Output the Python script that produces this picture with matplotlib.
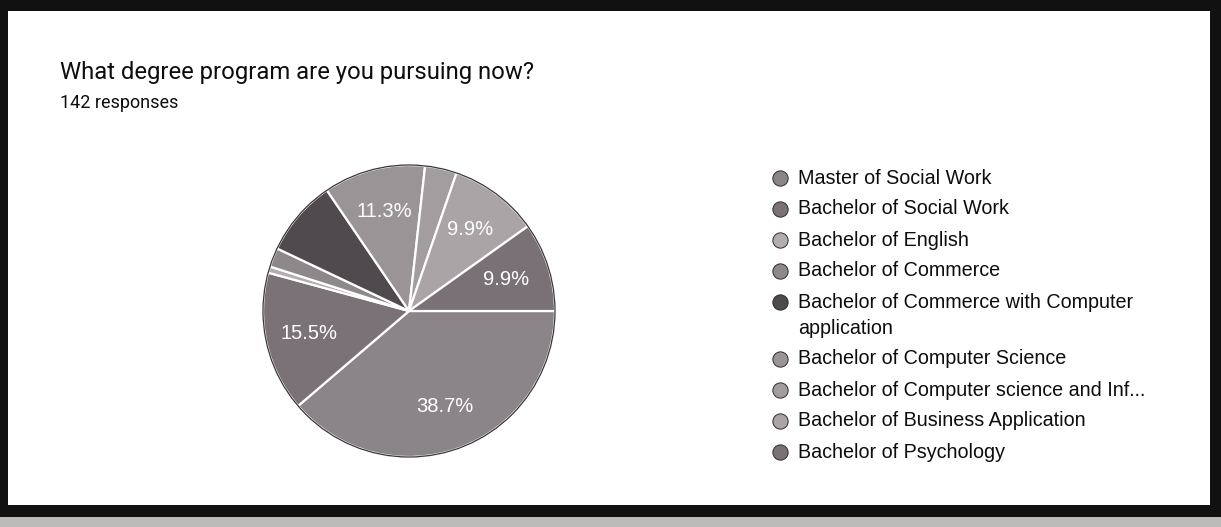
import matplotlib
matplotlib.use("Agg")
import matplotlib.pyplot as plt
from matplotlib.patches import Rectangle, Circle

# ---- data ----
title = "What degree program are you pursuing now?"
subtitle = "142 responses"
categories = [
    "Master of Social Work",
    "Bachelor of Social Work",
    "Bachelor of English",
    "Bachelor of Commerce",
    "Bachelor of Commerce with Computer\napplication",
    "Bachelor of Computer Science",
    "Bachelor of Computer science and Inf...",
    "Bachelor of Business Application",
    "Bachelor of Psychology",
]
counts = [55, 22, 1, 3, 12, 16, 5, 14, 14]
colors = ["#8b8488", "#7a7276", "#b3adaf", "#8e888a", "#4f4a4e",
          "#9a9496", "#a39d9f", "#aaa4a6", "#797175"]

W, H = 1221, 527
fig = plt.figure(figsize=(W / 100, H / 100), dpi=100)
fig.patch.set_facecolor("white")

# overlay axes in pixel coordinates
ov = fig.add_axes([0, 0, 1, 1])
ov.set_xlim(0, W)
ov.set_ylim(H, 0)
ov.axis("off")

# photocopy frame
ov.add_patch(Rectangle((0, 0), W, 11, color="#111111", lw=0))
ov.add_patch(Rectangle((0, 0), 8, 518, color="#111111", lw=0))
ov.add_patch(Rectangle((1210, 0), 11, 518, color="#111111", lw=0))
ov.add_patch(Rectangle((0, 505), W, 12, color="#111111", lw=0))
ov.add_patch(Rectangle((0, 517), W, 10, color="#bdbaba", lw=0))

# titles
ov.text(60, 72, title, fontsize=17.2, family="Roboto", color="#0d0d0d",
        va="center", ha="left")
ov.text(60, 103, subtitle, fontsize=13, family="Roboto", color="#0d0d0d",
        va="center", ha="left")

# pie
cx, cy, r = 409, 311, 146
ax = fig.add_axes([(cx - r) / W, (H - cy - r) / H, 2 * r / W, 2 * r / H])


def fmt(p):
    return f"{p:.1f}%" if p >= 9 else ""


wedges, texts, autotexts = ax.pie(
    counts, colors=colors, startangle=0, counterclock=False,
    autopct=fmt, pctdistance=0.7,
    wedgeprops=dict(edgecolor="white", linewidth=1.6),
    textprops=dict(color="white", fontsize=14.5, family="Liberation Sans"),
)
for w in wedges:
    w.set_clip_on(False)
ax.add_patch(Circle((0, 0), 1.0, fill=False, edgecolor="#3a3537", lw=0.9,
                    clip_on=False))
ax.set_xlim(-1, 1)
ax.set_ylim(-1, 1)
ax.set_aspect("equal")
ax.axis("off")

# legend (manual)
y = 178
step = 31
for name, col in zip(categories, colors):
    ov.plot([780], [y], marker="o", markersize=11, color=col,
            markeredgecolor="#2e2a2c", markeredgewidth=0.7)
    lines = name.split("\n")
    for k, line in enumerate(lines):
        ov.text(798, y + 26 * k, line, fontsize=14.2,
                family="Liberation Sans", color="#0d0d0d",
                va="center", ha="left")
    y += 26 * (len(lines) - 1) + step

fig.savefig("out.png", dpi=100)
